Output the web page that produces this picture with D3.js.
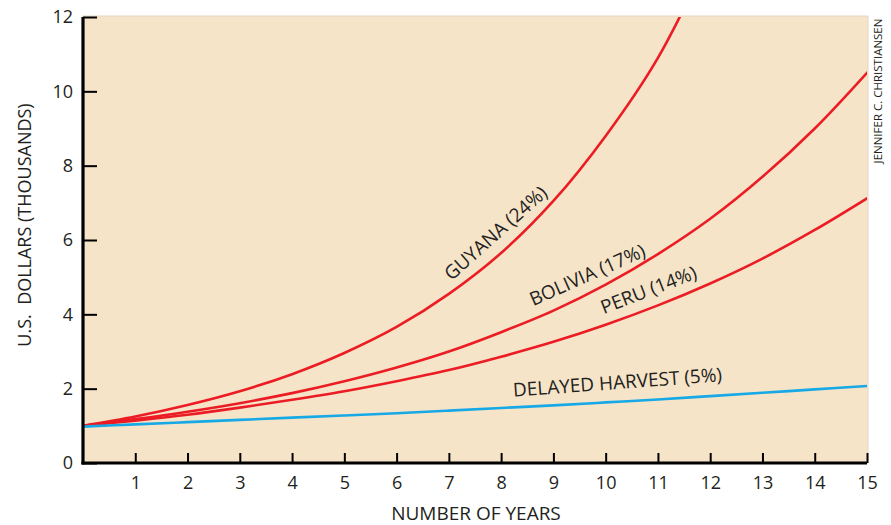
<!DOCTYPE html>
<html>
<head>
<meta charset="utf-8">
<script src="https://cdn.jsdelivr.net/npm/d3@7"></script>
<style>
  html, body { margin: 0; padding: 0; background: #fff; }
  svg { display: block; font-family: "Open Sans", "Noto Sans", sans-serif; }
</style>
</head>
<body>
<div id="chart"></div>
<script>
// Data (value in thousands of US dollars per year)
const years = [0, 1, 2, 3, 4, 5, 6, 7, 8, 9, 10, 11, 12, 13, 14, 15];
const guyana = [1.0, 1.25, 1.56, 1.93, 2.39, 2.96, 3.66, 4.55, 5.65, 7.05, 8.8, 10.9, 13.7];
const bolivia = [1.0, 1.18, 1.38, 1.61, 1.88, 2.2, 2.57, 3.0, 3.52, 4.1, 4.8, 5.62, 6.57, 7.7, 9.0, 10.5];
const peru = [1.0, 1.14, 1.3, 1.49, 1.7, 1.93, 2.2, 2.5, 2.86, 3.26, 3.72, 4.24, 4.83, 5.5, 6.27, 7.12];
const delayed = [0.98, 1.04, 1.1, 1.16, 1.22, 1.28, 1.34, 1.41, 1.48, 1.55, 1.63, 1.71, 1.8, 1.89, 1.98, 2.07];
const xTicks = [1, 2, 3, 4, 5, 6, 7, 8, 9, 10, 11, 12, 13, 14, 15];
const yTicks = [0, 2, 4, 6, 8, 10, 12];

const series = [
  { name: "GUYANA (24%)", values: guyana, color: "#ec1c24", label: [500, 238, -41.7] },
  { name: "BOLIVIA (17%)", values: bolivia, color: "#ec1c24", label: [590, 281, -24] },
  { name: "PERU (14%)", values: peru, color: "#ec1c24", label: [651, 296, -21] },
  { name: "DELAYED HARVEST (5%)", values: delayed, color: "#16a9e6", label: [618, 389, -4.3] }
];

const W = 891, H = 525;
const m = { left: 83, right: 24, top: 17, bottom: 62 };

const svg = d3.select("#chart").append("svg")
  .attr("width", W).attr("height", H);

const x = d3.scaleLinear().domain([0, 15]).range([m.left, W - m.right]);
const y = d3.scaleLinear().domain([0, 12]).range([H - m.bottom, m.top]);

// plot background
svg.append("rect")
  .attr("x", x(0)).attr("y", y(12) - 1)
  .attr("width", x(15) - x(0) + 1).attr("height", y(0) - y(12) + 1)
  .attr("fill", "#f6e4c9")
  .attr("stroke", "#e3d6c4").attr("stroke-width", 1);

svg.append("defs").append("clipPath").attr("id", "plot")
  .append("rect")
  .attr("x", x(0)).attr("y", y(12))
  .attr("width", x(15) - x(0)).attr("height", y(0) - y(12));

// lines
const line = d3.line()
  .x((d, i) => x(years[i]))
  .y(d => y(d))
  .curve(d3.curveCatmullRom);

const lines = svg.append("g").attr("clip-path", "url(#plot)");
lines.selectAll("path")
  .data(series)
  .join("path")
  .attr("d", d => line(d.values))
  .attr("fill", "none")
  .attr("stroke", d => d.color)
  .attr("stroke-width", 2.6)
  .attr("stroke-linecap", "round");

// series labels along the curves
svg.append("g").selectAll("text")
  .data(series)
  .join("text")
  .attr("transform", d => `translate(${d.label[0]},${d.label[1]}) rotate(${d.label[2]})`)
  .attr("text-anchor", "middle")
  .attr("font-size", 19)
  .attr("fill", "#231f20")
  .text(d => d.name);

// axes
const xAxis = d3.axisBottom(x).tickValues(xTicks).tickSize(-10).tickPadding(13).tickFormat(d3.format("d"));
const yAxis = d3.axisLeft(y).tickValues(yTicks).tickSize(-14).tickPadding(10).tickFormat(d3.format("d"));

const gx = svg.append("g")
  .attr("transform", `translate(0,${y(0)})`)
  .call(xAxis);
const gy = svg.append("g")
  .attr("transform", `translate(${x(0)},0)`)
  .call(yAxis);

[gx, gy].forEach(g => {
  g.select(".domain").attr("stroke", "#000").attr("stroke-width", 3.2);
  g.selectAll(".tick line").attr("stroke", "#000").attr("stroke-width", 2);
  g.selectAll(".tick text").attr("font-size", 18).attr("fill", "#231f20")
    .attr("font-family", "\"Open Sans\", sans-serif");
});
gx.select(".domain").attr("d", `M${x(0) - 1.6},0H${x(15)}`);
gy.select(".domain").attr("d", `M0,${y(0) + 1.6}V${y(12)}`);

// axis titles
svg.append("text")
  .attr("x", 476).attr("y", 520)
  .attr("text-anchor", "middle")
  .attr("font-size", 19)
  .attr("fill", "#231f20")
  .text("NUMBER OF YEARS");

svg.append("text")
  .attr("transform", `translate(31,225) rotate(-90)`)
  .attr("text-anchor", "middle")
  .attr("font-size", 18)
  .attr("fill", "#231f20")
  .style("white-space", "pre")
  .text("U.S.  DOLLARS (THOUSANDS)");

// credit
svg.append("text")
  .attr("transform", `translate(882,91) rotate(-90)`)
  .attr("text-anchor", "middle")
  .attr("font-size", 11.5)
  .attr("fill", "#231f20")
  .text("JENNIFER C. CHRISTIANSEN");
</script>
</body>
</html>
